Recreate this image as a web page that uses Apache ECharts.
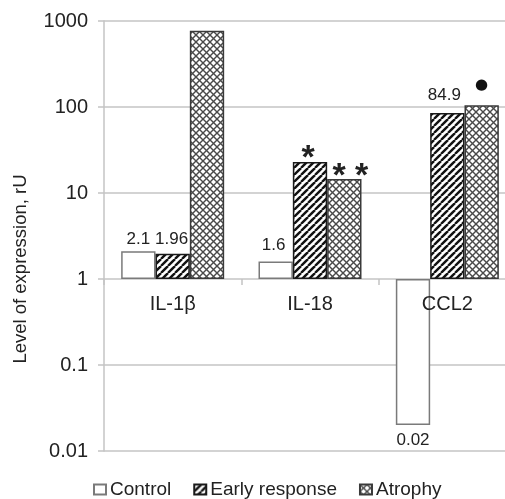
<!DOCTYPE html>
<html><head><meta charset="utf-8">
<script src="https://cdn.jsdelivr.net/npm/echarts@6/dist/echarts.min.js"></script>
<style>html,body{margin:0;padding:0;background:#fff}#c{width:505px;height:499px}</style>
</head><body><div id="c"></div>
<script>
const categories = ['IL-1\u03b2', 'IL-18', 'CCL2'];
const seriesNames = ['Control', 'Early response', 'Atrophy'];
const controlValues = [2.1, 1.6, 0.02];
const earlyValues = [1.96, 23, 84.9];
const atrophyValues = [770, 14.5, 105];
const controlLabels = ['2.1', '1.6', '0.02'];
const earlyLabels = ['1.96', '*', '84.9'];
const atrophyLabels = ['', '* *', '\u25cf'];
const yTicks = [0.01, 0.1, 1, 10, 100, 1000];

const FONT = "'Liberation Sans', Arial, sans-serif";

function makeStripe() {
  const s = 7, c = document.createElement('canvas');
  c.width = s; c.height = s;
  const g = c.getContext('2d');
  g.fillStyle = '#fff'; g.fillRect(0, 0, s, s);
  g.strokeStyle = '#111'; g.lineWidth = 2.4;
  for (let k = -1; k <= 1; k++) {
    g.beginPath(); g.moveTo(k * s, s); g.lineTo(k * s + s, 0); g.stroke();
  }
  return c;
}
function makeCross() {
  const s = 7, c = document.createElement('canvas');
  c.width = s; c.height = s;
  const g = c.getContext('2d');
  g.fillStyle = '#fff'; g.fillRect(0, 0, s, s);
  g.strokeStyle = '#4a4a4a'; g.lineWidth = 1.4;
  for (let k = -1; k <= 1; k++) {
    g.beginPath(); g.moveTo(k * s, s); g.lineTo(k * s + s, 0); g.stroke();
    g.beginPath(); g.moveTo(k * s, 0); g.lineTo(k * s + s, s); g.stroke();
  }
  return c;
}

const numStyle = { fontFamily: FONT, fontSize: 17, color: '#222' };
const starStyle = { fontFamily: FONT, fontSize: 34, fontWeight: 'bold', color: '#222' };
const dotStyle = { fontFamily: "'DejaVu Sans', sans-serif", fontSize: 15, color: '#111' };

function styleFor(txt) {
  if (txt.indexOf('*') >= 0) return starStyle;
  if (txt === '\u25cf') return dotStyle;
  return numStyle;
}
const labelTweaks = {
  'Control|2': { position: 'bottom', distance: 7 },
  'Control|1': { offset: [-2, -5] },
  'Early response|0': { offset: [-1, -3] },
  'Early response|1': { offset: [-2, 17] },
  'Early response|2': { offset: [-3, -6] },
  'Atrophy|1': { offset: [6, 18] },
  'Atrophy|2': { offset: [0, -10] }
};

function buildData(name, values, labels) {
  return values.map((v, i) => {
    const t = labels[i];
    const tw = labelTweaks[name + '|' + i] || {};
    return {
      value: v,
      label: Object.assign({ show: t !== '', formatter: t, position: 'top', distance: 3 }, styleFor(t), tw)
    };
  });
}

const chart = echarts.init(document.getElementById('c'), null, { renderer: 'canvas' });
const patterns = [null, { image: makeStripe(), repeat: 'repeat' }, { image: makeCross(), repeat: 'repeat' }];
const itemStyles = [
  { color: '#fff', borderColor: '#7a7a7a', borderWidth: 1.5 },
  { color: patterns[1], borderColor: '#1a1a1a', borderWidth: 1.5 },
  { color: patterns[2], borderColor: '#3a3a3a', borderWidth: 1.5 }
];
const allValues = [controlValues, earlyValues, atrophyValues];
const allLabels = [controlLabels, earlyLabels, atrophyLabels];

chart.setOption({
  animation: false,
  backgroundColor: '#fff',
  grid: { left: 104, width: 412, top: 21, height: 430, containLabel: false, outerBoundsMode: 'none' },
  legend: {
    data: seriesNames,
    left: 88, top: 475,
    itemWidth: 12, itemHeight: 10, itemGap: 22,
    icon: 'rect',
    textStyle: { fontFamily: FONT, fontSize: 19, color: '#222', padding: [0, 0, 0, -1] }
  },
  xAxis: {
    type: 'category',
    data: categories,
    position: 'bottom',
    offset: -172,
    z: 5,
    axisLine: { show: false },
    axisTick: { show: true, length: 6, lineStyle: { color: '#c4c4c4', width: 1.5 } },
    axisLabel: { fontFamily: FONT, fontSize: 20, color: '#222', margin: 15 },
    splitLine: { show: false }
  },
  yAxis: {
    type: 'log',
    logBase: 10,
    min: yTicks[0],
    max: yTicks[yTicks.length - 1],
    axisLine: { show: true, lineStyle: { color: '#c4c4c4', width: 1.5 } },
    axisTick: { show: true, length: 6, lineStyle: { color: '#c4c4c4', width: 1.5 } },
    axisLabel: {
      fontFamily: FONT, fontSize: 20, color: '#222', margin: 16,
      formatter: v => { const r = yTicks.find(t => Math.abs(t - v) / t < 1e-6); return r !== undefined ? String(r) : ''; }
    },
    splitLine: { show: true, lineStyle: { color: '#c4c4c4', width: 1.5 } }
  },
  graphic: [{
    type: 'text', x: 21, y: 269, rotation: Math.PI / 2,
    style: { text: 'Level of expression, rU', fontFamily: FONT, fontSize: 18.5, fill: '#222', textAlign: 'center', textVerticalAlign: 'middle' }
  }],
  series: seriesNames.map((n, k) => ({
    name: n,
    type: 'bar',
    barGap: '0%',
    barCategoryGap: '25%',
    itemStyle: itemStyles[k],
    data: buildData(n, allValues[k], allLabels[k])
  }))
});
</script></body></html>
